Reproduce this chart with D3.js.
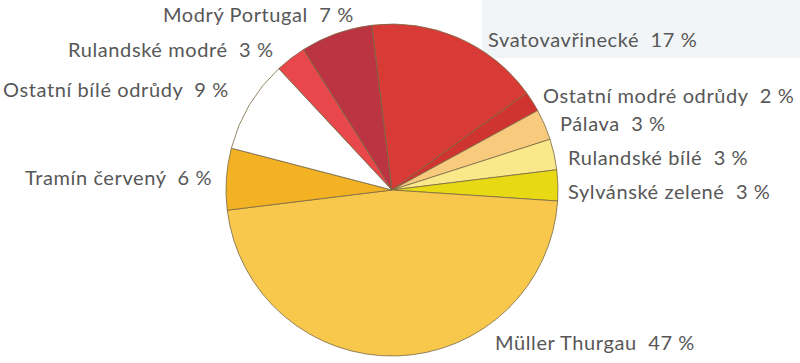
<!DOCTYPE html>
<html>
<head>
<meta charset="utf-8">
<script src="https://cdn.jsdelivr.net/npm/d3@7"></script>
<style>
    body { margin: 0; background: #fff; }
    svg text { font-family: Lato, "Open Sans", sans-serif; fill: #575757; letter-spacing: 0.6px; }
</style>
</head>
<body>
<div id="chart"></div>
<script>
    // clockwise from the top
    const varieties = ["Svatovavřinecké", "Ostatní modré odrůdy", "Pálava", "Rulandské bílé",
        "Sylvánské zelené", "Müller Thurgau", "Tramín červený", "Ostatní bílé odrůdy",
        "Rulandské modré", "Modrý Portugal"];
    const shares = [17, 2, 3, 3, 3, 47, 6, 9, 3, 7];
    const colors = ["#d83a36", "#cf3431", "#f8ca7e", "#fae88a", "#e7da14", "#f8c84c",
        "#f2b223", "#ffffff", "#e8474b", "#ba3541"];
    // label anchor (left x, baseline y)
    const labelPos = [[488, 47], [543, 103], [560, 131], [568, 165], [568, 199],
        [495, 350], [25, 185], [3, 97], [68, 57], [163, 22]];

    const width = 800, height = 363;
    const cx = 392, cy = 190, radius = 166;

    const svg = d3.select("#chart").append("svg")
        .attr("width", width)
        .attr("height", height);

    // faint scanned panel behind the top-right labels
    svg.append("rect")
        .attr("x", 482).attr("y", 0)
        .attr("width", 318).attr("height", 58)
        .attr("fill", "#f2f5f8");

    const data = varieties.map((name, i) => ({name: name, value: shares[i], color: colors[i], pos: labelPos[i]}));

    const offset = -7 * Math.PI / 180;
    const pie = d3.pie()
        .sort(null)
        .value(d => d.value)
        .startAngle(offset)
        .endAngle(offset + 2 * Math.PI);

    const arc = d3.arc().innerRadius(0).outerRadius(radius);

    svg.append("g")
        .attr("transform", "translate(" + cx + "," + cy + ")")
        .selectAll("path")
        .data(pie(data))
        .enter()
        .append("path")
            .attr("d", arc)
            .attr("fill", d => d.data.color)
            .attr("stroke", "#7a6845")
            .attr("stroke-width", 0.8);

    svg.append("g")
        .selectAll("text")
        .data(data)
        .enter()
        .append("text")
            .attr("x", d => d.pos[0])
            .attr("y", d => d.pos[1])
            .attr("font-size", 20)
            .attr("xml:space", "preserve")
            .text(d => d.name + "  " + d.value + " %");
</script>
</body>
</html>
